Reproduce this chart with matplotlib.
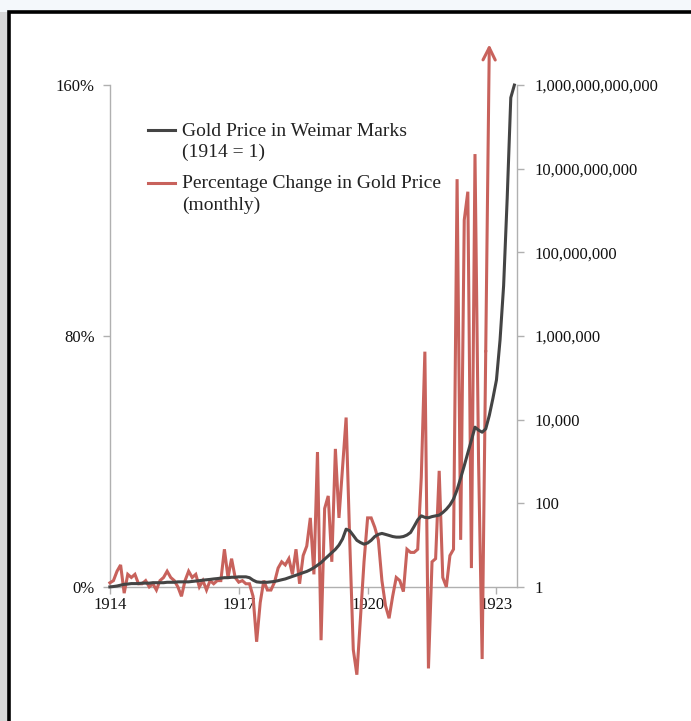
"""
Weimar gold price chart: monthly % change (left axis) and gold price index in
marks on a log scale (right axis), 1914-1923.
"""
import matplotlib
matplotlib.use("Agg")
import matplotlib.pyplot as plt
from matplotlib.lines import Line2D
from matplotlib.patches import Rectangle
from matplotlib.ticker import FixedLocator, FuncFormatter, NullLocator

plt.rcParams["font.family"] = ["Liberation Serif", "DejaVu Serif"]

RED = "#c8625c"
DARK = "#444444"
GRID = "#b0b0b0"

# month index 0 = Jan 1914
pct_change = [
    1.3, 2, 5, 7, -2, 4, 3, 4, 1, 1, 2, 0,             # 1914
    1, -1, 2, 3, 5, 3, 2, 0, -3, 2, 5, 3,              # 1915
    4, 0, 2, -1, 2, 1, 2, 2, 12, 3, 9, 3,              # 1916
    1.5, 2, 1, 1, -3, -17.5, -5, 2, -1, -1, 1.5, 6,    # 1917
    8, 7, 9, 4, 12, 1, 10, 13, 22, 4, 43, -17,         # 1918
    25, 29, 8, 44, 22, 38, 54, 15, -20, -28, -10, 8,   # 1919
    22, 22, 19, 15, 2, -6, -10, -3, 3, 2, -1.5, 12,    # 1920
    11, 11, 12, 35, 75, -26, 8, 9, 37, 3, 0, 10,       # 1921
    12, 130, 15, 117, 126, 6, 138, 40, -23, 75, 173,   # 1922-23 (last one off chart)
]

gold_price = [
    1.0, 1.02, 1.05, 1.1, 1.15, 1.17, 1.2, 1.2, 1.2, 1.23, 1.23, 1.23,
    1.26, 1.26, 1.26, 1.26, 1.29, 1.29, 1.29, 1.32, 1.32, 1.32, 1.32, 1.35,
    1.38, 1.41, 1.45, 1.48, 1.51, 1.55, 1.58, 1.62, 1.66, 1.66, 1.7, 1.7,
    1.74, 1.74, 1.74, 1.66, 1.45, 1.32, 1.29, 1.29, 1.29, 1.32, 1.35, 1.41,
    1.48, 1.55, 1.66, 1.78, 1.9, 2.04, 2.19, 2.34, 2.57, 2.88, 3.3, 3.8,
    4.6, 5.5, 6.6, 7.9, 10, 14, 24, 22, 17, 13, 11.5, 10.5,
    11.2, 13, 16, 18, 19, 18, 17, 16, 15.5, 15.5, 16, 17.4,
    20, 28, 40, 50, 46, 45, 48, 50, 52, 60, 72, 91,
    126, 210, 400, 790, 1600, 3200, 6600, 5600, 5000, 6000, 12600, 32000,
    89000, 8e5, 1.6e7, 2e9, 5e11, 1e12,
]

year_ticks = [0, 36, 72, 108]
year_labels = ["1914", "1917", "1920", "1923"]
pct_ticks = [0, 80, 160]
price_ticks = [1, 1e2, 1e4, 1e6, 1e8, 1e10, 1e12]
legend_labels = ["Gold Price in Weimar Marks\n(1914 = 1)",
                 "Percentage Change in Gold Price\n(monthly)"]

fig = plt.figure(figsize=(6.91, 7.21), dpi=100)
fig.patch.set_facecolor("white")

# frame of the original screenshot (drawn beneath the axes)
fig.add_artist(Rectangle((0.0, -0.1), 0.014, 1.1, transform=fig.transFigure,
                         facecolor="#d8d8d8", edgecolor="none", zorder=-2))
fig.add_artist(Rectangle((0.0, 0.983), 1.0, 0.02, transform=fig.transFigure,
                         facecolor="#f4f8fb", edgecolor="none", zorder=-2))
fig.add_artist(Rectangle((0.013, -0.1), 1.2, 1.083, transform=fig.transFigure,
                         facecolor="white", edgecolor="black", lw=2.6, zorder=-1))

ax = fig.add_axes([0.159, 0.186, 0.589, 0.696])
ax2 = ax.twinx()

months = list(range(len(pct_change)))
ax.plot(months[:-1], pct_change[:-1], color=RED, lw=2.2, clip_on=False,
        solid_joinstyle="miter", zorder=3)
ax.annotate("", xy=(months[-1], pct_change[-1]), xytext=(months[-2], pct_change[-2]),
            arrowprops=dict(arrowstyle="->", color=RED, lw=2.2, mutation_scale=22,
                            shrinkA=0, shrinkB=0),
            annotation_clip=False, zorder=3)

ax2.plot(range(len(gold_price)), gold_price, color=DARK, lw=2.2, clip_on=False, zorder=2)
ax2.set_yscale("log")

ax.set_xlim(0, 113.7)
ax.set_ylim(0, 160)
ax2.set_ylim(1, 1e12)

for a in (ax, ax2):
    a.patch.set_visible(False)
    a.spines["top"].set_visible(False)
    for s in ("left", "right", "bottom"):
        a.spines[s].set_color(GRID)
        a.spines[s].set_linewidth(1.0)
ax.spines["right"].set_visible(False)
ax2.spines["left"].set_visible(False)
ax2.spines["bottom"].set_visible(False)

ax.set_xticks(year_ticks)
ax.set_xticklabels(year_labels)
ax.set_yticks(pct_ticks)
ax.set_yticklabels([f"{v}%" for v in pct_ticks])
ax.tick_params(axis="both", colors=GRID, labelcolor="#111111", labelsize=12,
               length=5, width=1.0)
ax.tick_params(axis="y", pad=6)
ax.tick_params(axis="x", pad=2)

ax2.yaxis.set_major_locator(FixedLocator(price_ticks))
ax2.yaxis.set_major_formatter(FuncFormatter(lambda v, p: f"{v:,.0f}"))
ax2.yaxis.set_minor_locator(NullLocator())
ax2.tick_params(axis="y", colors=GRID, labelcolor="#111111", labelsize=12,
                length=5, width=1.0, pad=8)

# legend by hand: the key sits level with the first line of each label
for label, color, y_line, y_text in zip(legend_labels, [DARK, RED],
                                        [0.910, 0.805], [0.925, 0.820]):
    ax.add_line(Line2D([0.093, 0.160], [y_line, y_line], color=color, lw=2.2,
                       transform=ax.transAxes, clip_on=False))
    ax.text(0.177, y_text, label, transform=ax.transAxes, fontsize=14,
            color="#222222", ha="left", va="top", linespacing=1.3)

fig.savefig("out.png", dpi=100)
